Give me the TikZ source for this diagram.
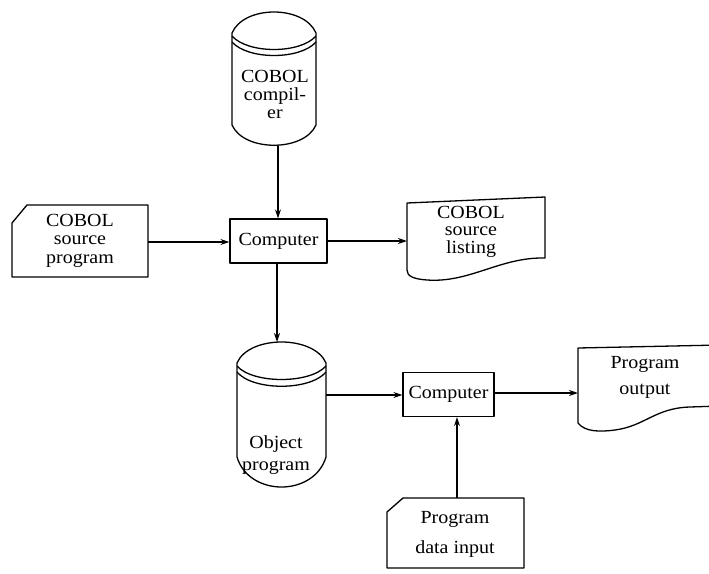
\documentclass[tikz,border=0pt]{standalone}
\usepackage{fontspec}
\setmainfont{Liberation Serif}[FakeStretch=1.08]
\usetikzlibrary{arrows.meta}
\begin{document}
\begin{tikzpicture}[x=1pt,y=-1pt, line width=1.3pt, line join=round,
  outline/.style={draw, line width=1.3pt},
  lbl/.style={align=center, inner sep=0pt},
  compbox/.style={draw, line width=1.3pt, minimum height=44pt, inner sep=0pt, font=\fontsize{18.5}{18}\selectfont},
  arr/.style={-{Stealth[length=9pt,width=6pt]}, line width=1.3pt}]
\useasboundingbox (0,0) rectangle (709,573);

% ---- COBOL compiler drum
\path[outline] (232,33) -- (232,125) .. controls (244,152) and (304,152) .. (316,125)
  -- (316,33) .. controls (304,5) and (244,5) .. (232,33) -- cycle;
\draw (232,36) .. controls (248,54) and (300,54) .. (316,36);
\draw (232,42) .. controls (248,60) and (300,60) .. (316,42);
\coordinate (compilerbot) at (278,146);
\node[lbl, font=\fontsize{18.5}{18}\selectfont] (compiler) at (275,94) {COBOL\\compil-\\er};

% ---- Computer 1
\node[compbox, minimum width=97pt] (comp1) at (278.5,241) {Computer};

% ---- COBOL source program card
\path[outline] (27,205) -- (148,205) -- (148,277) -- (12,277) -- (12,223) -- cycle;
\coordinate (srcright) at (148,242);
\node[lbl, font=\fontsize{18.5}{18.5}\selectfont] (src) at (80,240.5) {COBOL\\source\\program};

% ---- COBOL source listing document
\path[outline] (407,203) -- (545,197) -- (545,258)
  .. controls (500,257) and (470,283) .. (427,280)
  .. controls (413,279) and (407,276) .. (407,270) -- cycle;
\coordinate (listleft) at (407,241);
\node[lbl, font=\fontsize{18.5}{17.5}\selectfont] (listing) at (471,231.5) {COBOL\\source\\listing};

% ---- Object program drum
\path[outline] (237,363) -- (237,457) .. controls (249,497) and (314,497) .. (326,457)
  -- (326,363) .. controls (314,335) and (249,335) .. (237,363) -- cycle;
\draw (237,366) .. controls (253,384) and (310,384) .. (326,366);
\draw (237,372) .. controls (253,391) and (310,391) .. (326,372);
\coordinate (objtop) at (277,342);
\coordinate (objright) at (326,395);
\node[lbl, font=\fontsize{18.5}{22}\selectfont] (object) at (276,455) {Object\\program};

% ---- Computer 2
\node[compbox, minimum width=91pt] (comp2) at (448.5,394.5) {Computer};

% ---- Program output document
\path[outline] (720,345) -- (578,348) -- (578,423)
  .. controls (585,432) and (600,432) .. (615,430)
  .. controls (645,426) and (655,408) .. (690,407) -- (720,406);
\coordinate (outleft) at (578,393);
\node[lbl, font=\fontsize{18.5}{26}\selectfont] (output) at (645,377) {Program\\output};

% ---- Program data input card
\path[outline] (403,498) -- (524,498) -- (524,568) -- (387,568) -- (387,512) -- cycle;
\coordinate (datatop) at (457,498);
\node[lbl, font=\fontsize{18.5}{30}\selectfont] (data) at (455,534) {Program\\data input};

% ---- connectors
\draw[arr] (compilerbot) -- (comp1.north -| compilerbot);
\draw[arr] (srcright) -- (srcright -| comp1.west);
\draw[arr] (comp1.east |- listleft) -- (listleft);
\draw[arr] (comp1.south -| objtop) -- (objtop);
\draw[arr] (objright) -- (objright -| comp2.west);
\draw[arr] (comp2.east |- outleft) -- (outleft);
\draw[arr] (datatop) -- (datatop |- comp2.south);
\end{tikzpicture}
\end{document}
